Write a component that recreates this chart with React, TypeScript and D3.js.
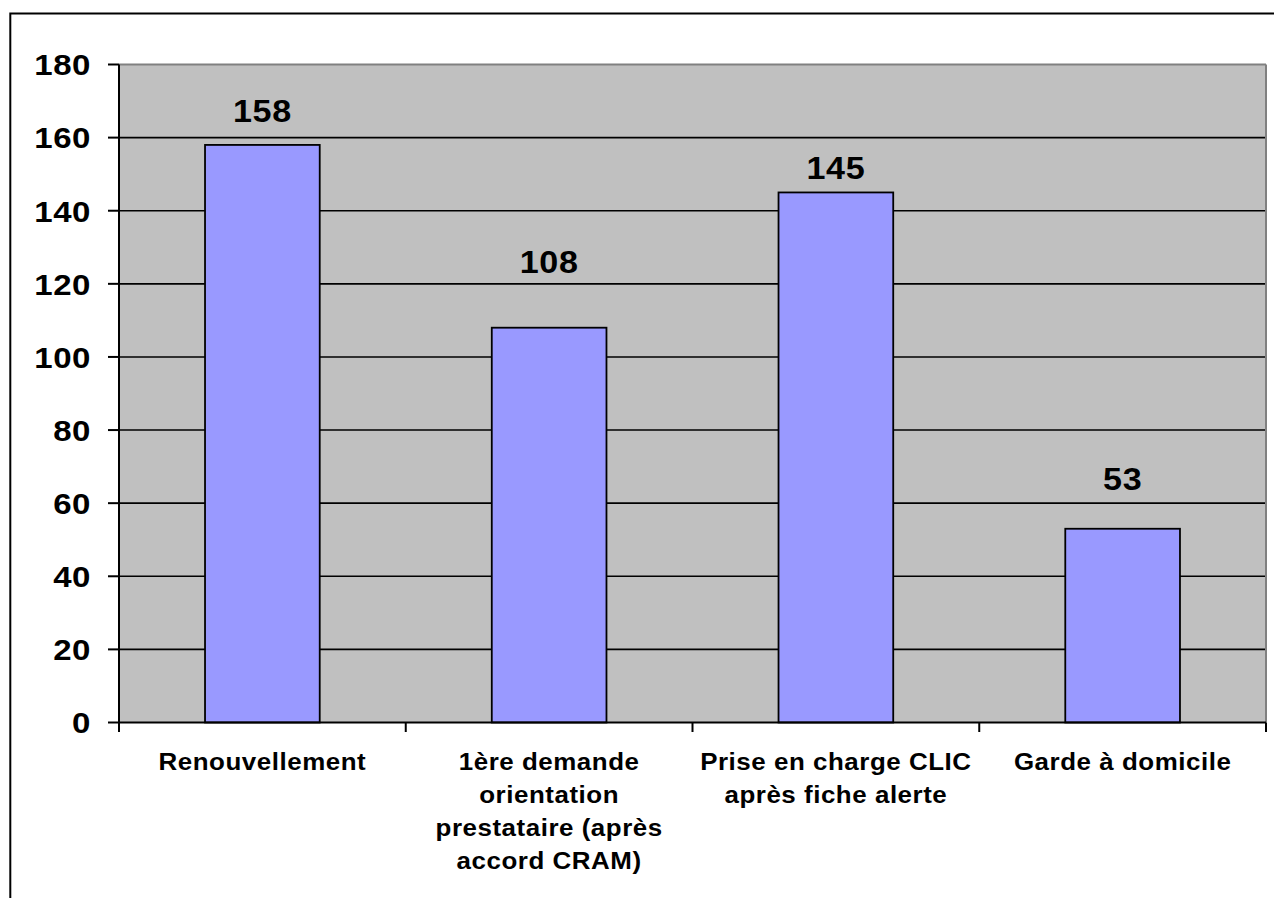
import React from "react";
import * as d3 from "d3";

const categories: string[][] = [
  ["Renouvellement"],
  ["1ère demande", "orientation", "prestataire (après", "accord CRAM)"],
  ["Prise en charge CLIC", "après fiche alerte"],
  ["Garde à domicile"],
];
const values: number[] = [158, 108, 145, 53];
const labelLift: number[] = [23, 55, 13, 39];
const yTicks: number[] = [0, 20, 40, 60, 80, 100, 120, 140, 160, 180];

const W = 1274;
const H = 898;
const plot = { left: 119, top: 64.5, right: 1266, bottom: 722.5 };
const FONT = "'Liberation Sans', Arial, Helvetica, sans-serif";

export default function App() {
  const x = d3
    .scaleBand<number>()
    .domain(values.map((_, i) => i))
    .range([plot.left, plot.right])
    .paddingInner(0)
    .paddingOuter(0);
  const y = d3.scaleLinear().domain([0, 180]).range([plot.bottom, plot.top]);
  const bw = x.bandwidth();
  const barW = bw * 0.4;
  const boundaries = d3.range(values.length + 1).map((i) => plot.left + i * bw);

  return (
    <svg
      width={W}
      height={H}
      style={{ position: "absolute", left: 0, top: 0, background: "#fff" }}
    >
      <rect x={0} y={0} width={W} height={H} fill="#fff" />
      <rect x={10.3} y={13.5} width={W + 20} height={H + 20} fill="none" stroke="#000" strokeWidth={2} />
      <rect
        x={plot.left}
        y={plot.top}
        width={plot.right - plot.left}
        height={plot.bottom - plot.top}
        fill="#C0C0C0"
      />
      {yTicks.slice(1, -1).map((t) => (
        <line key={"g" + t} x1={plot.left} x2={plot.right} y1={y(t)} y2={y(t)} stroke="#000" strokeWidth={1.6} />
      ))}
      <line x1={plot.left} x2={plot.right} y1={plot.top} y2={plot.top} stroke="#808080" strokeWidth={2} />
      <line x1={plot.right} x2={plot.right} y1={plot.top} y2={plot.bottom} stroke="#808080" strokeWidth={2} />
      {values.map((v, i) => {
        const cx = (x(i) as number) + bw / 2;
        return (
          <rect
            key={"b" + i}
            x={cx - barW / 2}
            y={y(v)}
            width={barW}
            height={y(0) - y(v)}
            fill="#9999FF"
            stroke="#000"
            strokeWidth={1.8}
          />
        );
      })}
      <line x1={plot.left} x2={plot.left} y1={plot.top} y2={plot.bottom + 9.5} stroke="#000" strokeWidth={2} />
      <line x1={plot.left} x2={plot.right} y1={plot.bottom} y2={plot.bottom} stroke="#000" strokeWidth={2} />
      {yTicks.map((t) => (
        <g key={"yt" + t}>
          <line x1={plot.left - 11} x2={plot.left} y1={y(t)} y2={y(t)} stroke="#000" strokeWidth={2} />
          <g transform={`translate(91,${y(t)}) scale(1.1,1)`}>
            <text
              x={0}
              y={0}
              dy="0.36em"
              textAnchor="end"
              fontFamily={FONT}
              fontWeight="bold"
              fontSize={30}
              letterSpacing={0.5}
              fill="#000"
            >
              {t}
            </text>
          </g>
        </g>
      ))}
      {boundaries.map((bx, i) => (
        <line key={"xt" + i} x1={bx} x2={bx} y1={plot.bottom} y2={plot.bottom + 9.5} stroke="#000" strokeWidth={2} />
      ))}
      {values.map((v, i) => {
        const cx = (x(i) as number) + bw / 2;
        return (
          <g key={"dl" + i} transform={`translate(${cx},${y(v) - labelLift[i]}) scale(1.1,1)`}>
            <text
              x={0}
              y={0}
              textAnchor="middle"
              fontFamily={FONT}
              fontWeight="bold"
              fontSize={31}
              letterSpacing={0.5}
              fill="#000"
            >
              {v}
            </text>
          </g>
        );
      })}
      {categories.map((lines, i) => {
        const cx = (x(i) as number) + bw / 2;
        return (
          <g key={"c" + i} transform={`translate(${cx},770) scale(1.08,1)`}>
            <text
              textAnchor="middle"
              fontFamily={FONT}
              fontWeight="bold"
              fontSize={24}
              letterSpacing={0.5}
              fill="#000"
            >
              {lines.map((ln, j) => (
                <tspan key={j} x={0} y={j * 33}>
                  {ln}
                </tspan>
              ))}
            </text>
          </g>
        );
      })}
    </svg>
  );
}
